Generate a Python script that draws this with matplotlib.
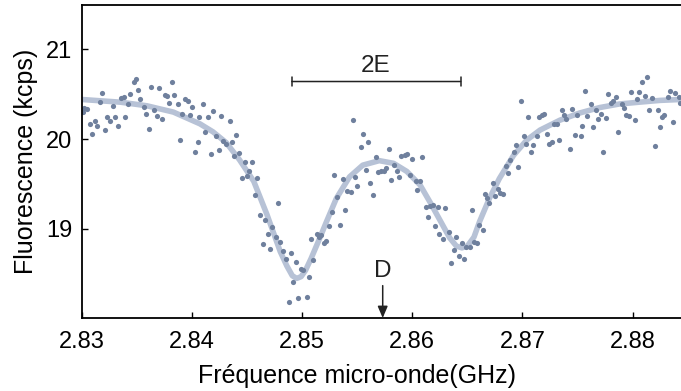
import matplotlib
matplotlib.use("Agg")
import matplotlib.pyplot as plt
import numpy as np

plt.rcParams['font.family'] = ['Liberation Sans', 'DejaVu Sans']

# measured points (GHz, kcps)
freq = [2.8301, 2.8302, 2.8305, 2.8307, 2.8309, 2.8312, 2.8314, 2.8316, 2.8318, 2.8321,
        2.8323, 2.8325, 2.8328, 2.8330, 2.8333, 2.8335, 2.8338, 2.8339, 2.8342, 2.8344,
        2.8347, 2.8349, 2.8351, 2.8353, 2.8356, 2.8358, 2.8361, 2.8363, 2.8365, 2.8368,
        2.8370, 2.8373, 2.8375, 2.8377, 2.8379, 2.8382, 2.8384, 2.8387, 2.8389, 2.8391,
        2.8394, 2.8396, 2.8398, 2.8400, 2.8403, 2.8405, 2.8406,
        2.8410, 2.8412, 2.8414, 2.8417, 2.8419, 2.8422, 2.8424, 2.8426, 2.8428, 2.8431,
        2.8434, 2.8436, 2.8438, 2.8440, 2.8443, 2.8445, 2.8448, 2.8450, 2.8452, 2.8454,
        2.8457, 2.8459, 2.8462, 2.8464, 2.8466, 2.8469, 2.8471, 2.8473, 2.8476, 2.8478,
        2.8480, 2.8483, 2.8485, 2.8488, 2.8490, 2.8492, 2.8494, 2.8496, 2.8499, 2.8501,
        2.8504, 2.8506, 2.8508, 2.8510, 2.8513, 2.8515,
        2.8517, 2.8520, 2.8522, 2.8524, 2.8527, 2.8529, 2.8532, 2.8534, 2.8537, 2.8539,
        2.8541, 2.8544, 2.8546, 2.8548, 2.8550, 2.8553, 2.8555, 2.8558, 2.8560, 2.8562,
        2.8564, 2.8567, 2.8569, 2.8572, 2.8574, 2.8576, 2.8579, 2.8581, 2.8583, 2.8586,
        2.8588, 2.8590, 2.8593, 2.8595, 2.8598, 2.8600, 2.8603, 2.8604, 2.8607, 2.8609,
        2.8612, 2.8614, 2.8616, 2.8619, 2.8621, 2.8623, 2.8624,
        2.8628, 2.8630, 2.8633, 2.8635, 2.8638, 2.8640, 2.8642, 2.8645, 2.8647, 2.8649,
        2.8652, 2.8654, 2.8656, 2.8659, 2.8661, 2.8664, 2.8666, 2.8668, 2.8670, 2.8673,
        2.8675, 2.8678, 2.8680, 2.8682, 2.8685, 2.8687, 2.8689, 2.8692, 2.8694, 2.8696,
        2.8699, 2.8701, 2.8703, 2.8705, 2.8708, 2.8710, 2.8713, 2.8715, 2.8718, 2.8720,
        2.8722, 2.8724, 2.8727, 2.8729, 2.8731, 2.8733,
        2.8736, 2.8738, 2.8740, 2.8743, 2.8745, 2.8748, 2.8750, 2.8753, 2.8754, 2.8757,
        2.8759, 2.8762, 2.8764, 2.8767, 2.8769, 2.8771, 2.8773, 2.8776, 2.8778, 2.8780,
        2.8782, 2.8785, 2.8787, 2.8790, 2.8792, 2.8794, 2.8797, 2.8799, 2.8802, 2.8804,
        2.8806, 2.8809, 2.8811, 2.8813, 2.8815, 2.8818, 2.8820, 2.8823, 2.8825, 2.8827,
        2.8829, 2.8832, 2.8834, 2.8837, 2.8839, 2.8842, 2.8843]
counts = [20.30, 20.35, 20.33, 20.17, 20.06, 20.20, 20.14, 20.41, 20.51, 20.10,
          20.24, 20.20, 20.37, 20.25, 20.14, 20.46, 20.47, 20.24, 20.39, 20.50,
          20.63, 20.67, 20.55, 20.45, 20.36, 20.28, 20.11, 20.58, 20.32, 20.26,
          20.57, 20.22, 20.49, 20.48, 20.40, 20.64, 20.49, 20.39, 19.99, 20.28,
          20.44, 20.42, 20.27, 20.36, 19.86, 19.97, 20.25,
          20.39, 20.08, 20.24, 19.83, 20.31, 20.03, 19.88, 20.26, 19.98, 19.95,
          20.20, 19.97, 19.81, 20.04, 19.84, 19.57, 19.74, 19.59, 19.64, 19.74,
          19.38, 19.57, 19.16, 18.83, 19.10, 18.94, 18.78, 19.02, 18.91, 19.29,
          18.85, 18.76, 18.67, 18.19, 18.73, 18.41, 18.63, 18.23, 18.56, 18.54,
          18.24, 18.47, 18.89, 18.65, 18.94, 18.91,
          18.93, 18.84, 18.87, 19.03, 19.19, 19.60, 19.36, 19.04, 19.56, 19.21,
          19.42, 19.41, 20.21, 19.58, 19.48, 19.91, 20.06, 19.66, 19.97, 19.51,
          19.38, 19.80, 19.63, 19.64, 19.64, 19.68, 19.89, 19.55, 19.71, 19.65,
          19.58, 19.81, 19.82, 19.83, 19.60, 19.78, 19.53, 19.43, 19.53, 19.80,
          19.24, 19.13, 19.26, 19.27, 19.03, 19.25, 18.94,
          18.89, 19.23, 18.97, 18.62, 18.77, 18.91, 18.70, 18.84, 18.67, 18.80,
          18.80, 19.21, 18.85, 18.84, 19.04, 18.99, 19.39, 19.34, 19.29, 19.51,
          19.37, 19.44, 19.40, 19.39, 19.70, 19.62, 19.77, 19.86, 19.93, 19.69,
          20.42, 20.03, 19.94, 20.24, 19.86, 19.93, 20.03, 20.24, 20.27, 20.28,
          20.06, 19.95, 19.97, 20.17, 20.17, 19.99,
          20.32, 20.27, 20.22, 19.89, 20.33, 20.04, 20.27, 20.03, 20.14, 20.53,
          20.26, 20.39, 20.13, 20.32, 20.22, 20.28, 19.86, 20.23, 20.50, 20.40,
          20.42, 20.47, 20.08, 20.39, 20.34, 20.27, 20.26, 20.52, 20.21, 20.45,
          20.52, 20.63, 20.48, 20.69, 20.32, 20.46, 19.92, 20.32, 20.13, 20.25,
          20.27, 20.47, 20.53, 20.19, 20.51, 20.47, 20.40]

# fitted curve
fit_freq = [2.8300, 2.8335, 2.8359, 2.8383, 2.8407, 2.8419, 2.8431, 2.8443, 2.8456, 2.8468,
            2.8480, 2.8486, 2.8491, 2.8495, 2.8499, 2.8503, 2.8508, 2.8516, 2.8522, 2.8531,
            2.8543, 2.8555, 2.8570, 2.8583, 2.8595, 2.8607, 2.8616, 2.8625, 2.8634, 2.8640,
            2.8645, 2.8650, 2.8656, 2.8661, 2.8670, 2.8679, 2.8692, 2.8704, 2.8716, 2.8734,
            2.8752, 2.8770, 2.8788, 2.8806, 2.8825, 2.8844]
fit_counts = [20.44, 20.41, 20.37, 20.30, 20.17, 20.08, 19.96, 19.77, 19.53, 19.16,
              18.75, 18.59, 18.48, 18.45, 18.47, 18.54, 18.67, 18.90, 19.08, 19.34,
              19.58, 19.71, 19.76, 19.73, 19.64, 19.49, 19.30, 19.10, 18.90, 18.81,
              18.79, 18.81, 18.91, 19.08, 19.34, 19.56, 19.82, 19.99, 20.10, 20.21,
              20.29, 20.35, 20.39, 20.41, 20.43, 20.44]

xticks = [2.83, 2.84, 2.85, 2.86, 2.87, 2.88]
yticks = [19, 20, 21]

fig = plt.figure(figsize=(6.81, 3.91), dpi=100)
ax = fig.add_axes([0.1204, 0.1867, 0.8796, 0.8003])

ax.plot(fit_freq, fit_counts, color="#b7c2d6", lw=4, solid_capstyle="round",
        solid_joinstyle="round", zorder=1)
ax.scatter(freq, counts, s=14, color="#6f809d", linewidths=0, zorder=2)

# 2E splitting bar
ax.annotate("", xy=(2.84906, 20.64), xytext=(2.86439, 20.64),
            arrowprops=dict(arrowstyle="|-|,widthA=0.35,widthB=0.35", color="#222222", lw=1.1,
                            shrinkA=0, shrinkB=0))
ax.text(2.8567, 20.81, "2E", ha="center", va="center", fontsize=17.5, color="#222222")

# D marker
ax.annotate("", xy=(2.85731, 18.01), xytext=(2.85731, 18.37),
            arrowprops=dict(arrowstyle="-|>,head_width=0.3,head_length=0.7", color="#222222",
                            lw=1.1, shrinkA=0, shrinkB=0))
ax.text(2.85731, 18.53, "D", ha="center", va="center", fontsize=17.5, color="#222222")

ax.set_xlim(2.83, 2.8844)
ax.set_ylim(18.01, 21.49)
ax.set_xticks(xticks)
ax.set_xticklabels([f"{t:.2f}" for t in xticks])
ax.set_yticks(yticks)
ax.tick_params(direction="in", length=4, width=1, labelsize=17, pad=7)
ax.tick_params(axis="x", pad=9)
ax.spines["right"].set_visible(False)
for s in ["left", "top", "bottom"]:
    ax.spines[s].set_linewidth(1.3)

ax.set_xlabel("Fréquence micro-onde(GHz)", fontsize=18, labelpad=8, x=0.459)
ax.set_ylabel("Fluorescence (kcps)", fontsize=18, labelpad=6)

fig.savefig("out.png", dpi=100)
